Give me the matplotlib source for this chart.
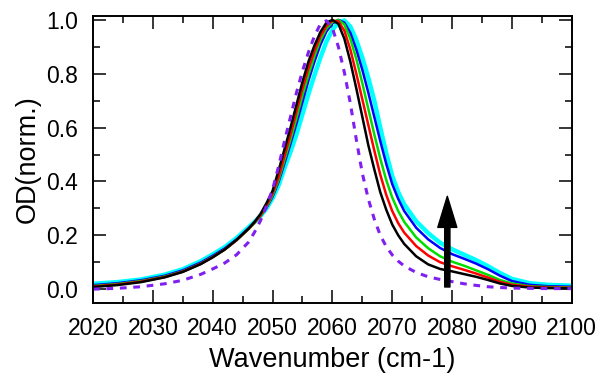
import matplotlib
matplotlib.use('Agg')
import matplotlib.pyplot as plt
from matplotlib.ticker import MultipleLocator

plt.rcParams['font.family'] = ['Liberation Sans', 'DejaVu Sans']

# wavenumber grid (cm-1) shared by all spectra
wn = [2020, 2024, 2028, 2032, 2035, 2038, 2040, 2042, 2044, 2046, 2047, 2048, 2049,
      2050, 2051, 2052, 2053, 2054, 2055, 2056, 2057, 2058, 2059, 2060, 2061, 2062,
      2063, 2064, 2065, 2066, 2067, 2068, 2069, 2070, 2071, 2072, 2074, 2076, 2078,
      2080, 2082, 2084, 2086, 2088, 2090, 2093, 2096, 2100]

od_black = [0.008, 0.015, 0.026, 0.044, 0.064, 0.093, 0.118, 0.147, 0.183, 0.225, 0.25, 0.28,
            0.32, 0.365, 0.44, 0.52, 0.6, 0.685, 0.77, 0.845, 0.905, 0.955, 0.99, 1.0,
            0.985, 0.93, 0.845, 0.745, 0.64, 0.535, 0.445, 0.36, 0.295, 0.24, 0.2, 0.168,
            0.122, 0.092, 0.075, 0.066, 0.056, 0.046, 0.034, 0.021, 0.012, 0.006, 0.004, 0.003]
od_red = [0.01, 0.017, 0.028, 0.045, 0.065, 0.094, 0.119, 0.147, 0.182, 0.224, 0.248, 0.275,
          0.31, 0.355, 0.415, 0.495, 0.575, 0.66, 0.745, 0.82, 0.885, 0.94, 0.978, 0.997,
          0.995, 0.96, 0.89, 0.8, 0.705, 0.61, 0.515, 0.425, 0.35, 0.29, 0.245, 0.21,
          0.16, 0.125, 0.1, 0.085, 0.072, 0.058, 0.043, 0.027, 0.016, 0.009, 0.006, 0.005]
od_green = [0.012, 0.019, 0.03, 0.047, 0.066, 0.095, 0.12, 0.147, 0.182, 0.223, 0.246, 0.272,
            0.305, 0.348, 0.405, 0.48, 0.555, 0.635, 0.72, 0.795, 0.865, 0.925, 0.968, 0.992,
            1.0, 0.983, 0.93, 0.855, 0.765, 0.67, 0.575, 0.485, 0.405, 0.34, 0.29, 0.25,
            0.192, 0.152, 0.122, 0.102, 0.087, 0.07, 0.053, 0.034, 0.021, 0.011, 0.008, 0.006]
od_blue = [0.015, 0.022, 0.033, 0.05, 0.07, 0.099, 0.124, 0.151, 0.185, 0.226, 0.248, 0.272,
           0.303, 0.343, 0.398, 0.468, 0.54, 0.615, 0.695, 0.775, 0.845, 0.908, 0.957, 0.987,
           1.0, 0.99, 0.952, 0.89, 0.815, 0.73, 0.64, 0.55, 0.465, 0.39, 0.335, 0.29,
           0.228, 0.185, 0.153, 0.13, 0.113, 0.095, 0.074, 0.05, 0.03, 0.016, 0.011, 0.009]
od_cyan = [0.02, 0.026, 0.036, 0.054, 0.074, 0.104, 0.129, 0.156, 0.19, 0.23, 0.25, 0.272,
           0.3, 0.337, 0.385, 0.45, 0.51, 0.575, 0.65, 0.725, 0.795, 0.86, 0.92, 0.963,
           0.99, 0.998, 0.975, 0.925, 0.86, 0.785, 0.7, 0.6, 0.505, 0.42, 0.36, 0.315,
           0.252, 0.208, 0.172, 0.148, 0.128, 0.108, 0.085, 0.06, 0.038, 0.022, 0.016, 0.013]
od_purple = [0.0, 0.003, 0.009, 0.02, 0.033, 0.055, 0.075, 0.097, 0.128, 0.175, 0.212, 0.255,
             0.31, 0.37, 0.455, 0.55, 0.64, 0.73, 0.81, 0.88, 0.94, 0.985, 0.997, 0.97,
             0.9, 0.805, 0.69, 0.555, 0.43, 0.335, 0.26, 0.2, 0.158, 0.127, 0.104, 0.086,
             0.062, 0.046, 0.036, 0.028, 0.02, 0.014, 0.009, 0.006, 0.004, 0.003, 0.002, 0.002]

fig = plt.figure(figsize=(6.0, 3.78), dpi=100)
ax = fig.add_axes([0.155, 0.198, 0.798, 0.76])

ax.plot(wn, od_cyan, color='#00ffff', lw=3.2)
ax.plot(wn, od_blue, color='#0000ff', lw=1.8)
ax.plot(wn, od_green, color='#00dd00', lw=1.8)
ax.plot(wn, od_red, color='#ff0000', lw=1.8)
ax.plot(wn, od_black, color='black', lw=1.8)
ax.plot(wn, od_purple, color='#8020f0', lw=2.2, ls=(0, (2.2, 2.2)))

# arrow showing growth of the shoulder
ax.annotate('', xy=(2079.2, 0.345), xytext=(2079.2, 0.008),
            arrowprops=dict(arrowstyle='simple,head_width=0.98,head_length=1.6,tail_width=0.27',
                            mutation_scale=14, color='black', shrinkA=0, shrinkB=0))

ax.set_xlim(2020, 2100)
ax.set_ylim(-0.052, 1.015)
ax.xaxis.set_major_locator(MultipleLocator(10))
ax.xaxis.set_minor_locator(MultipleLocator(5))
ax.yaxis.set_major_locator(MultipleLocator(0.2))
ax.yaxis.set_minor_locator(MultipleLocator(0.1))
ax.tick_params(which='both', direction='in', top=True, right=True, width=1.1,
               labelsize=16.5)
ax.tick_params(axis='x', pad=10)
ax.tick_params(axis='y', pad=11)
ax.tick_params(which='major', length=9.5)
ax.tick_params(which='minor', length=5)
for s in ax.spines.values():
    s.set_linewidth(1.4)

ax.set_xlabel('Wavenumber (cm-1)', fontsize=19.5, labelpad=5)
ax.set_ylabel('OD(norm.)', fontsize=19.5, labelpad=4)

fig.savefig('out.png', dpi=100)
